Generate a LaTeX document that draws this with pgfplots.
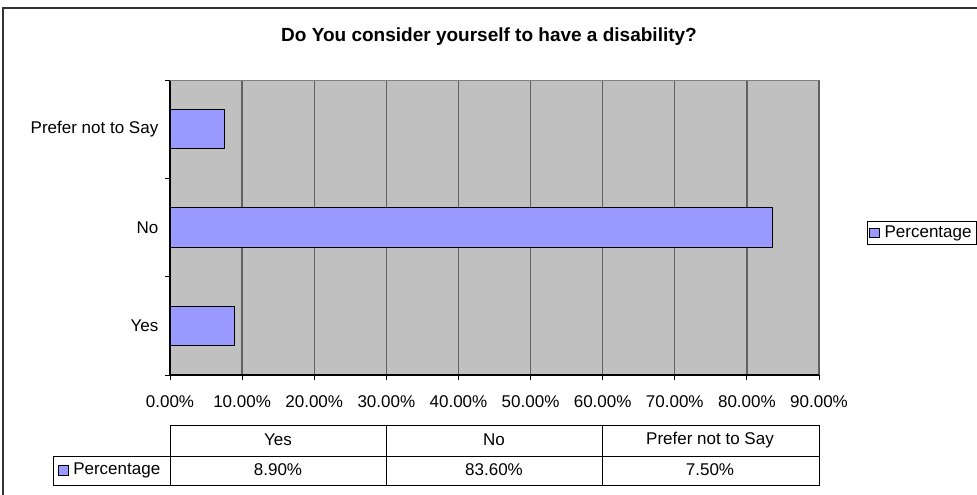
\documentclass[border=0pt]{standalone}
\usepackage{fontspec}
\setmainfont{Liberation Sans}
\usepackage{pgfplots}
\pgfplotsset{compat=1.18}
\definecolor{barblue}{HTML}{9999FF}
\definecolor{plotgray}{HTML}{C0C0C0}
\definecolor{gridgray}{HTML}{606060}
\newcommand{\lbl}{\fontsize{12.75}{15}\selectfont}

\begin{document}
\begin{tikzpicture}
% picture is laid out in pixels of the reference: 1px = 0.75pt, y counted from the top
\useasboundingbox (0,0) rectangle (732.75pt,-371.25pt);
\clip (0,0) rectangle (732.75pt,-371.25pt);
\fill[white] (0,0) rectangle (732.75pt,-371.25pt);

\begin{axis}[
    at={(127.5pt,-281.25pt)}, anchor=south west,
    scale only axis, width=486.75pt, height=221.25pt,
    xbar,
    xmin=0, xmax=90, ymin=-0.5, ymax=2.5,
    axis x line*=bottom, axis y line*=left,
    axis line style={black, line width=0.8pt},
    axis background/.style={fill=plotgray},
    xtick={0,10,...,90},
    xticklabels={0.00\%,10.00\%,20.00\%,30.00\%,40.00\%,50.00\%,60.00\%,70.00\%,80.00\%,90.00\%},
    xmajorgrids=true,
    grid style={gridgray, line width=1pt},
    ytick={-0.5,0.5,1.5,2.5},
    yticklabels={},
    extra y ticks={0,1,2},
    extra y tick labels={Yes,No,Prefer not to Say},
    extra y tick style={major tick length=0pt, grid=none},
    tick align=outside,
    major tick length=3.75pt,
    tick style={black, line width=0.6pt},
    ticklabel style={font=\lbl},
    xticklabel style={yshift=-8.5pt},
    yticklabel style={xshift=-5.25pt},
    legend style={at={(axis description cs:1.074,0.481)}, anchor=west,
        draw=black, fill=white, font=\lbl, inner sep=1.5pt,
        legend cell align=left,
        /tikz/every even column/.append style={column sep=0pt}},
]
\addplot[fill=barblue, draw=black, line width=0.75pt, bar width=0.4,
    legend image code/.code={\draw[fill=barblue,draw=black,line width=0.5pt] (1pt,-3.5pt) rectangle (8pt,3.5pt);}]
    coordinates {(8.9,0) (83.6,1) (7.5,2)};
\addlegendentry{\hspace{2pt}Percentage}
\draw[gray, line width=0.8pt] (rel axis cs:0,1) -- (rel axis cs:1,1);
\end{axis}

\begin{scope}[x=0.75pt, y=-0.75pt]
% outer chart border
\draw[black!80, line width=1pt] (3,8) rectangle (1000,500);
% title
\node[font=\fontsize{14.25}{17}\selectfont\bfseries] at (489,37) {Do You consider yourself to have a disability?};
% data table
\draw[black, line width=0.75pt] (170,425) -- (819,425) -- (819,485) -- (53,485) -- (53,456) -- (819,456);
\draw[black, line width=0.75pt] (170,425) -- (170,485);
\draw[black, line width=0.75pt] (386,425) -- (386,485);
\draw[black, line width=0.75pt] (602,425) -- (602,485);
\node[font=\lbl] at (278,440) {Yes};
\node[font=\lbl] at (494,440) {No};
\node[font=\lbl] at (710,440) {Prefer not to Say};
\node[font=\lbl] at (278,470) {8.90\%};
\node[font=\lbl] at (494,470) {83.60\%};
\node[font=\lbl] at (710,470) {7.50\%};
\draw[fill=barblue, draw=black, line width=0.5pt] (58,465) rectangle (68,475);
\node[font=\lbl, anchor=west, inner sep=0pt] at (73,470) {Percentage};
\end{scope}
\end{tikzpicture}
\end{document}
